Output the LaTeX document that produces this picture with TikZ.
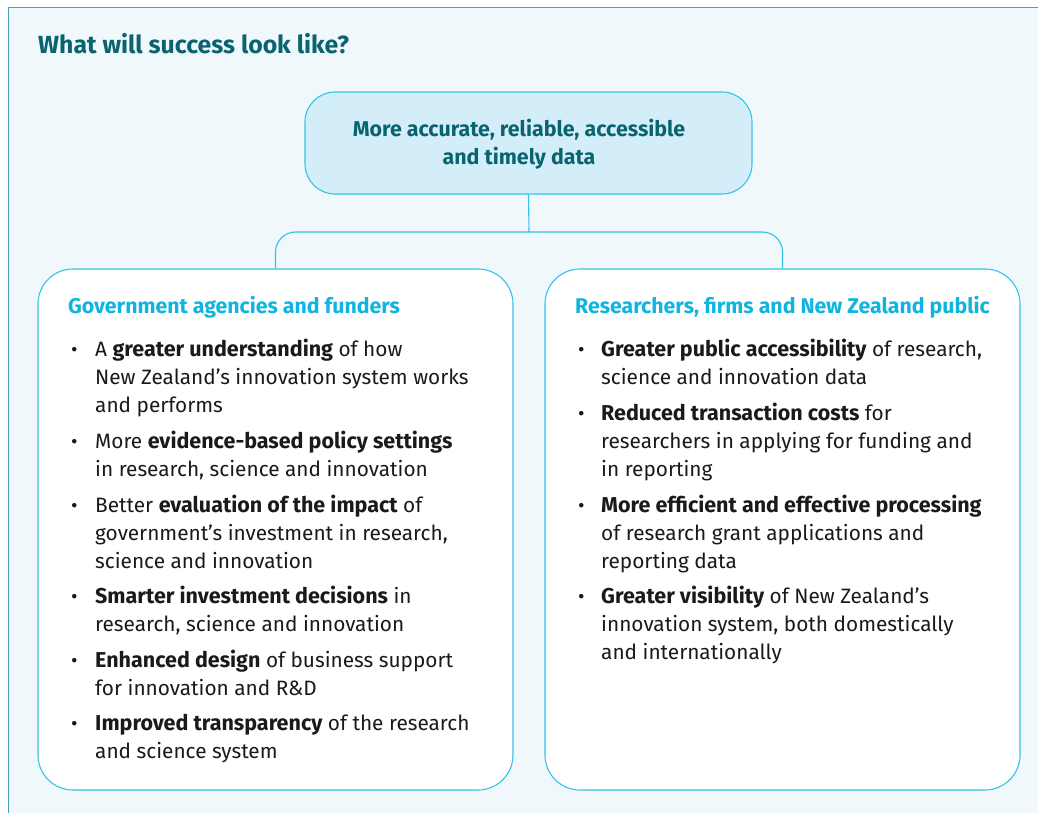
\documentclass[tikz,border=0pt]{standalone}
\usepackage{fontspec}
\setmainfont{Fira Sans}
\definecolor{bgc}{HTML}{F1F8FC}
\definecolor{framec}{HTML}{4AA0B5}
\definecolor{titlec}{HTML}{0A6470}
\definecolor{headc}{HTML}{10B4E0}
\definecolor{topfill}{HTML}{D4EEF9}
\definecolor{linec}{HTML}{33C3EA}
\definecolor{textc}{HTML}{1A1A1A}
\newcommand{\hlb}[1]{{\fontsize{21.5}{28}\selectfont\bfseries #1}}
\begin{document}
\begin{tikzpicture}[x=1pt,y=-1pt,
  box/.style={draw=linec, line width=1.1pt, rounded corners=35pt, fill=white, inner sep=0pt},
  topbox/.style={draw=linec, line width=1.1pt, rounded corners=30pt, fill=topfill, inner sep=0pt},
  conn/.style={draw=linec, line width=1.1pt},
  bodytext/.style={anchor=base west, align=left, inner sep=0pt, text=textc, font=\fontsize{20.8}{28}\selectfont},
  bulletdot/.style={anchor=base west, inner sep=0pt, text=textc, font=\fontsize{20}{28}\selectfont},
  heading/.style={anchor=base west, inner sep=0pt, text=headc, font=\fontsize{21.3}{28}\selectfont\bfseries},
  title/.style={anchor=base west, inner sep=0pt, text=titlec, font=\fontsize{24.8}{28}\selectfont\bfseries},
  toptext/.style={align=center, inner sep=0pt, text=titlec, font=\fontsize{21.4}{28}\selectfont\bfseries}]
\clip (0,0) rectangle (1038,812);
\useasboundingbox (0,0) rectangle (1038,812);
\fill[white] (0,0) rectangle (1038,812);
\draw[framec, line width=1pt, fill=bgc] (8.5,7.5) rectangle (1050,830);
\node[title] (title) at (38,53) {What will success look like?};
\node[topbox, minimum width=447pt, minimum height=102pt] (top) at (528.5,143) {};
\node[toptext, anchor=base] (toptxt) at (519,164) {More accurate, reliable, accessible\\and timely data};
\node[box, minimum width=475pt, minimum height=521pt] (left) at (275.5,529.5) {};
\node[box, minimum width=475pt, minimum height=521pt] (right) at (782.5,529.5) {};
\coordinate (junction) at (529,232);
\draw[conn] (top.south) -- (junction);
\draw[conn, rounded corners=20pt] (left.north) |- (junction) -| (right.north);
\node[heading] (lhead) at (68,313) {Government agencies and funders};
\node[heading] (rhead) at (575,313) {Researchers, firms and New Zealand public};
% left bullets (anchor = baseline of last line)
\node[bulletdot] (lb1) at (71,356) {•};
\node[bodytext] (lt1) at (95,412) {A \hlb{greater understanding} of how\\New Zealand’s innovation system works\\and performs};
\node[bulletdot] (lb2) at (71,448) {•};
\node[bodytext] (lt2) at (95,476) {More \hlb{evidence-based policy settings}\\in research, science and innovation};
\node[bulletdot] (lb3) at (71,512) {•};
\node[bodytext] (lt3) at (95,568) {Better \hlb{evaluation of the impact} of\\government’s investment in research,\\science and innovation};
\node[bulletdot] (lb4) at (71,603) {•};
\node[bodytext] (lt4) at (95,631) {\hlb{Smarter investment decisions} in\\research, science and innovation};
\node[bulletdot] (lb5) at (71,667) {•};
\node[bodytext] (lt5) at (95,695) {\hlb{Enhanced design} of business support\\for innovation and R\&D};
\node[bulletdot] (lb6) at (71,730) {•};
\node[bodytext] (lt6) at (95,758) {\hlb{Improved transparency} of the research\\and science system};
% right bullets
\node[bulletdot] (rb1) at (578,356) {•};
\node[bodytext] (rt1) at (601,384) {\hlb{Greater public accessibility} of research,\\science and innovation data};
\node[bulletdot] (rb2) at (578,420) {•};
\node[bodytext] (rt2) at (601,476) {\hlb{Reduced transaction costs} for\\researchers in applying for funding and\\in reporting};
\node[bulletdot] (rb3) at (578,512) {•};
\node[bodytext] (rt3) at (601,568) {\hlb{More efficient and effective processing}\\of research grant applications and\\reporting data};
\node[bulletdot] (rb4) at (578,603) {•};
\node[bodytext] (rt4) at (601,659) {\hlb{Greater visibility} of New Zealand’s\\innovation system, both domestically\\and internationally};
\end{tikzpicture}
\end{document}
